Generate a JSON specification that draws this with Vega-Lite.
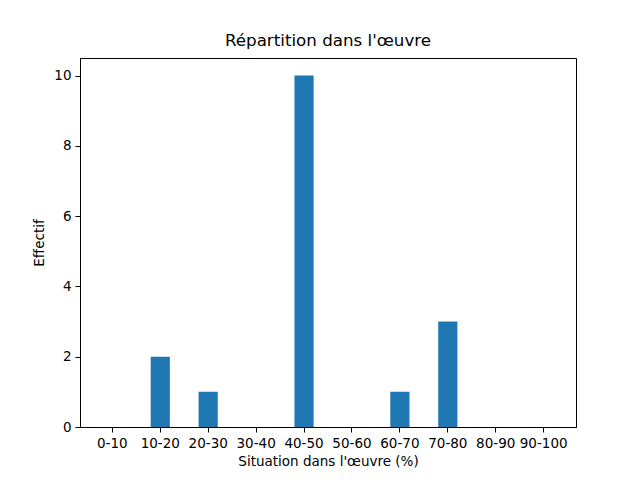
{
  "$schema": "https://vega.github.io/schema/vega-lite/v6.json",
  "width": 496,
  "height": 369,
  "autosize": {"type": "none"},
  "padding": {"left": 80, "top": 58, "right": 64, "bottom": 53},
  "background": "white",
  "title": {
    "text": "Répartition dans l'œuvre",
    "fontSize": 16.7,
    "fontWeight": "normal",
    "font": "DejaVu Sans",
    "color": "black",
    "offset": 8
  },
  "data": {
    "values": [
      {"tranche": "0-10", "effectif": 0},
      {"tranche": "10-20", "effectif": 2},
      {"tranche": "20-30", "effectif": 1},
      {"tranche": "30-40", "effectif": 0},
      {"tranche": "40-50", "effectif": 10},
      {"tranche": "50-60", "effectif": 0},
      {"tranche": "60-70", "effectif": 1},
      {"tranche": "70-80", "effectif": 3},
      {"tranche": "80-90", "effectif": 0},
      {"tranche": "90-100", "effectif": 0}
    ]
  },
  "mark": {"type": "bar", "color": "#1f77b4"},
  "encoding": {
    "x": {
      "field": "tranche",
      "type": "nominal",
      "sort": null,
      "title": "Situation dans l'œuvre (%)",
      "scale": {"paddingInner": 0.6, "paddingOuter": 0.475},
      "axis": {"labelAngle": 0, "titlePadding": 5}
    },
    "y": {
      "field": "effectif",
      "type": "quantitative",
      "title": "Effectif",
      "scale": {"domain": [0, 10.5], "nice": false},
      "axis": {"values": [0, 2, 4, 6, 8, 10], "titlePadding": 7}
    }
  },
  "config": {
    "font": "DejaVu Sans",
    "view": {"stroke": "black", "strokeWidth": 1},
    "axis": {
      "grid": false,
      "domainColor": "black",
      "tickColor": "black",
      "tickSize": 5,
      "labelPadding": 4,
      "labelFontSize": 13.5,
      "labelColor": "black",
      "titleFontSize": 13.5,
      "titleFontWeight": "normal",
      "titleColor": "black",
      "labelFont": "DejaVu Sans",
      "titleFont": "DejaVu Sans"
    }
  }
}
